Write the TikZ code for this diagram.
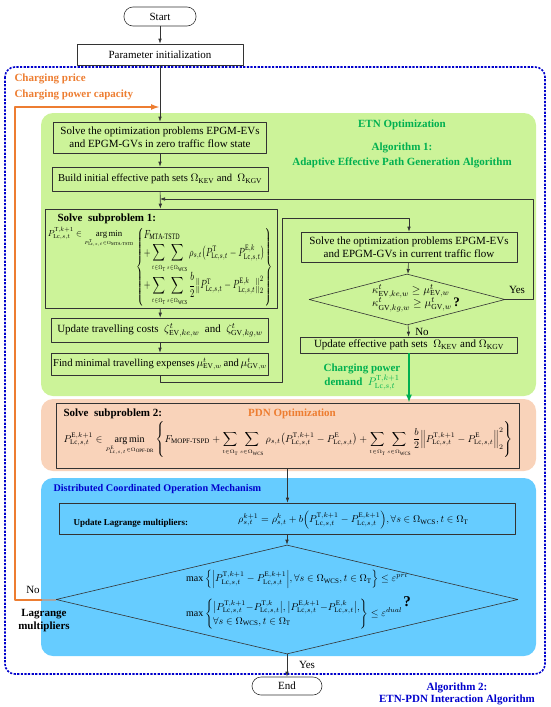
\documentclass[tikz,border=0pt]{standalone}
\usepackage{amsmath}
\usepackage{graphicx}
\usepackage{fontspec}
\setmainfont{Liberation Serif}
\usetikzlibrary{arrows.meta,positioning,calc,shapes.geometric}
\definecolor{etngreen}{RGB}{204,243,153}
\definecolor{pdnpeach}{RGB}{249,211,186}
\definecolor{dcoblue}{RGB}{102,204,255}
\definecolor{titlegreen}{RGB}{0,176,80}
\definecolor{loworange}{RGB}{237,125,49}
\definecolor{deepblue}{RGB}{0,0,204}
\newcommand{\Lc}{\mathrm{Lc},s,t}
\newcommand{\sumT}{\sum_{\scriptscriptstyle t\in\Omega_{\mathrm{T}}}}
\newcommand{\sumW}{\sum_{\scriptscriptstyle s\in\Omega_{\mathrm{WCS}}}}

\begin{document}
\begin{tikzpicture}[x=1pt,y=-1pt,font=\fontsize{11}{13}\selectfont,>={Latex[length=5pt,width=3.5pt]},line join=round,
proc/.style={draw=black!80,line width=.6pt,align=center,inner sep=1pt},
pill/.style={proc,rounded corners=9pt},
decide/.style={diamond,draw=black!80,line width=.6pt,inner sep=0pt},
flow/.style={draw=black!80,line width=.6pt},
heading/.style={font=\fontsize{11}{13}\selectfont\bfseries},
formula/.style={font=\fontsize{10}{12}\selectfont,inner sep=0pt}]
\useasboundingbox (0,0) rectangle (550,707);
% regions
\draw[deepblue,line width=1.6pt,dash pattern=on 2.2pt off 1.4pt,rounded corners=10pt] (5,67) rectangle (545,674);
\fill[etngreen,rounded corners=12pt] (41,113) rectangle (536,396);
\fill[pdnpeach,rounded corners=12pt] (41,399) rectangle (536,471);
\fill[dcoblue,rounded corners=12pt] (41,478) rectangle (536,656);
% top
\node[pill,minimum width=72pt,minimum height=19pt] (start) at (160,16.5) {Start};
\node[proc,minimum width=166pt,minimum height=21pt] (init) at (160,54.5) {Parameter initialization};
\node[heading,text=loworange,anchor=west] (price) at (11,79) {Charging price};
\node[heading,text=loworange,anchor=west] (capacity) at (11,95) {Charging power capacity};
% ETN part
\node[heading,text=titlegreen] (etnt) at (402,125) {ETN Optimization};
\node[heading,text=titlegreen,align=center] (alg1) at (402,155.5) {Algorithm 1:\\[2pt]Adaptive Effective Path Generation Algorithm};
\node[proc,minimum width=213pt,minimum height=31pt] (zero) at (160,137.5) {Solve the optimization problems EPGM-EVs\\and EPGM-GVs in zero traffic flow state};
\node[proc,minimum width=216pt,minimum height=24pt,font=\fontsize{10.6}{13}\selectfont] (initpath) at (160,179) {Build initial effective path sets $\Omega_{\mathrm{KEV}}$ and\ \ $\Omega_{\mathrm{KGV}}$};
\node[proc,minimum width=232pt,minimum height=99pt] (sub1) at (161,258.5) {};
\node[heading,anchor=west] (sub1t) at (54,218.5) {Solve\ \ subproblem 1:};
\node[formula,anchor=base east] (sub1l) at (134,236) {\resizebox{86pt}{!}{$P^{\mathrm{T},k+1}_{\Lc}\in\mathop{\arg\min}\limits_{\scriptscriptstyle P^{\mathrm{T}}_{\Lc}\in\Omega_{\mathrm{MTA\text{-}TSTD}}}$}};
\node[formula,anchor=west] (sub1r) at (136,267) {\resizebox*{136pt}{78pt}{$\left\{\begin{array}{@{}l@{}}F_{\mathrm{MTA\text{-}TSTD}}\\[1pt]
\displaystyle+\sumT\sumW\rho_{s,t}\big(P^{\mathrm{T}}_{\Lc}-P^{\mathrm{E},k}_{\Lc}\big)\\[1pt]
\displaystyle+\sumT\sumW\frac{b}{2}\big\|P^{\mathrm{T}}_{\Lc}-P^{\mathrm{E},k}_{\Lc}\big\|_2^2\end{array}\right\}$}};
\node[proc,minimum width=217pt,minimum height=24pt] (cost) at (160,330) {Update travelling costs\ \ $\zeta^{t}_{\mathrm{EV},ke,w}$\ \ and\ \ $\zeta^{t}_{\mathrm{GV},kg,w}$};
\node[proc,minimum width=217pt,minimum height=22pt,font=\fontsize{10.6}{13}\selectfont] (expense) at (160,364) {Find minimal travelling expenses$\,\mu^{t}_{\mathrm{EV},w}$\,and\,$\mu^{t}_{\mathrm{GV},w}$};
\node[proc,minimum width=216pt,minimum height=30pt] (curr) at (409,247) {Solve the optimization problems EPGM-EVs\\and EPGM-GVs in current traffic flow};
\node[decide,minimum width=196pt,minimum height=51pt] (check1) at (407,299.5) {};
\node[anchor=west,align=left,inner sep=0pt] (check1t) at (372,298) {$\kappa^{t}_{\mathrm{EV},ke,w}\geq\mu^{t}_{\mathrm{EV},w}$\\[-1pt]$\kappa^{t}_{\mathrm{GV},kg,w}\geq\mu^{t}_{\mathrm{GV},w}$\,{\fontsize{13}{13}\selectfont\bfseries ?}};
\node[proc,minimum width=217pt,minimum height=16pt] (updpath) at (409,345) {Update effective path sets\ \ $\Omega_{\mathrm{KEV}}$ and $\Omega_{\mathrm{KGV}}$};
\node (yes1) at (517,290) {Yes};
\node (no1) at (422,332) {No};
\node[heading,text=titlegreen,align=center] (demand) at (362,377) {Charging power\\demand\ \ $P^{\mathrm{T},k+1}_{\Lc}$};
% PDN part
\node[proc,minimum width=463pt,minimum height=65pt] (sub2) at (287.5,435.5) {};
\node[heading,anchor=west] (sub2t) at (60,414) {Solve\ \ subproblem 2:};
\node[heading,text=loworange] (pdnt) at (292,414) {PDN Optimization};
\node[formula,anchor=base] (sub2f) at (288,442) {$\displaystyle P^{\mathrm{E},k+1}_{\Lc}\in\mathop{\arg\min}\limits_{\scriptscriptstyle P^{\mathrm{E}}_{\Lc}\in\Omega_{\mathrm{OPF\text{-}DR}}}\left\{F_{\mathrm{MOPF\text{-}TSPD}}+\sumT\sumW\rho_{s,t}\big(P^{\mathrm{T},k+1}_{\Lc}-P^{\mathrm{E}}_{\Lc}\big)+\sumT\sumW\frac{b}{2}\Big\|P^{\mathrm{T},k+1}_{\Lc}-P^{\mathrm{E}}_{\Lc}\Big\|_2^2\right\}$};
% coordination part
\node[heading,text=deepblue,anchor=west,font=\fontsize{10.2}{12}\selectfont\bfseries] (dcot) at (50,489) {Distributed Coordinated Operation Mechanism};
\node[proc,minimum width=456pt,minimum height=31pt] (lagr) at (287,518.5) {};
\node[anchor=west,font=\fontsize{9}{11}\selectfont\bfseries] (lagrt) at (70,523) {Update Lagrange multipliers:};
\node[formula,anchor=west] (lagrf) at (238,520) {$\rho^{k+1}_{s,t}=\rho^{k}_{s,t}+b\Big(P^{\mathrm{T},k+1}_{\Lc}-P^{\mathrm{E},k+1}_{\Lc}\Big),\forall s\in\Omega_{\mathrm{WCS}},t\in\Omega_{\mathrm{T}}$};
\node[decide,minimum width=462pt,minimum height=109pt] (check2) at (287,599.5) {};
\node[formula,anchor=west] (check2a) at (186,579) {$\max\Big\{\Big|P^{\mathrm{T},k+1}_{\Lc}-P^{\mathrm{E},k+1}_{\Lc}\Big|,\forall s\in\Omega_{\mathrm{WCS}},t\in\Omega_{\mathrm{T}}\Big\}\leq\varepsilon^{pri}$};
\node[formula,anchor=west] (check2b) at (186,614) {$\max\left\{\begin{array}{@{}l@{}}\big|P^{\mathrm{T},k+1}_{\Lc}{-}P^{\mathrm{T},k}_{\Lc}\big|,\big|P^{\mathrm{E},k+1}_{\Lc}{-}P^{\mathrm{E},k}_{\Lc}\big|,\\[2pt]\forall s\in\Omega_{\mathrm{WCS}},t\in\Omega_{\mathrm{T}}\end{array}\right\}\leq\varepsilon^{dual}$};
\node[font=\fontsize{15}{16}\selectfont\bfseries] (q2) at (407,602) {?};
\node (no2) at (33,590) {No};
\node[heading,align=center] (lagm) at (44,621) {Lagrange\\multipliers};
\node (yes2) at (307,665) {Yes};
\node[pill,minimum width=70pt,minimum height=18pt] (finish) at (287,686) {End};
\node[heading,text=deepblue,align=center] (alg2) at (457,694) {Algorithm 2:\\[-1pt]ETN-PDN Interaction Algorithm};
% connectors
\coordinate (merge) at (160,199);
\coordinate (loopbot) at (282,382);
\coordinate (looptop) at (282,218);
\coordinate (orgtail) at (42,599.5);
\coordinate (orgcorner) at (15,107);
\coordinate (orgjoin) at (160,107);
\draw[flow,->] (start) -- (init);
\draw[flow,->] (init) -- (zero);
\draw[flow,->] (zero) -- (initpath);
\draw[flow,->] (initpath) -- (sub1);
\draw[flow,->] (sub1) -- (cost);
\draw[flow,->] (cost) -- (expense);
\draw[flow,->] (expense) |- (loopbot) -- (looptop) -| (curr);
\draw[flow,->] (curr) -- (check1);
\draw[flow,->] (check1) -- (updpath);
\draw[flow,->] (check1.east) -- ++(28,0) |- (merge);
\draw[titlegreen,line width=2.4pt,-{Latex[length=8pt,width=6pt]}] (updpath) -- (updpath |- sub2.north);
\draw[flow,->] (sub2.south) -- (sub2.south |- lagr.north);
\draw[flow,->] (lagr) -- (check2);
\draw[flow,->] (check2) -- (finish);
\draw[black!35,line width=2pt] (check2.west) -- (orgtail);
\draw[loworange,line width=2pt,-{Latex[length=9pt,width=6pt]}] (orgtail) -| (orgcorner) -- (orgjoin);
\end{tikzpicture}
\end{document}
